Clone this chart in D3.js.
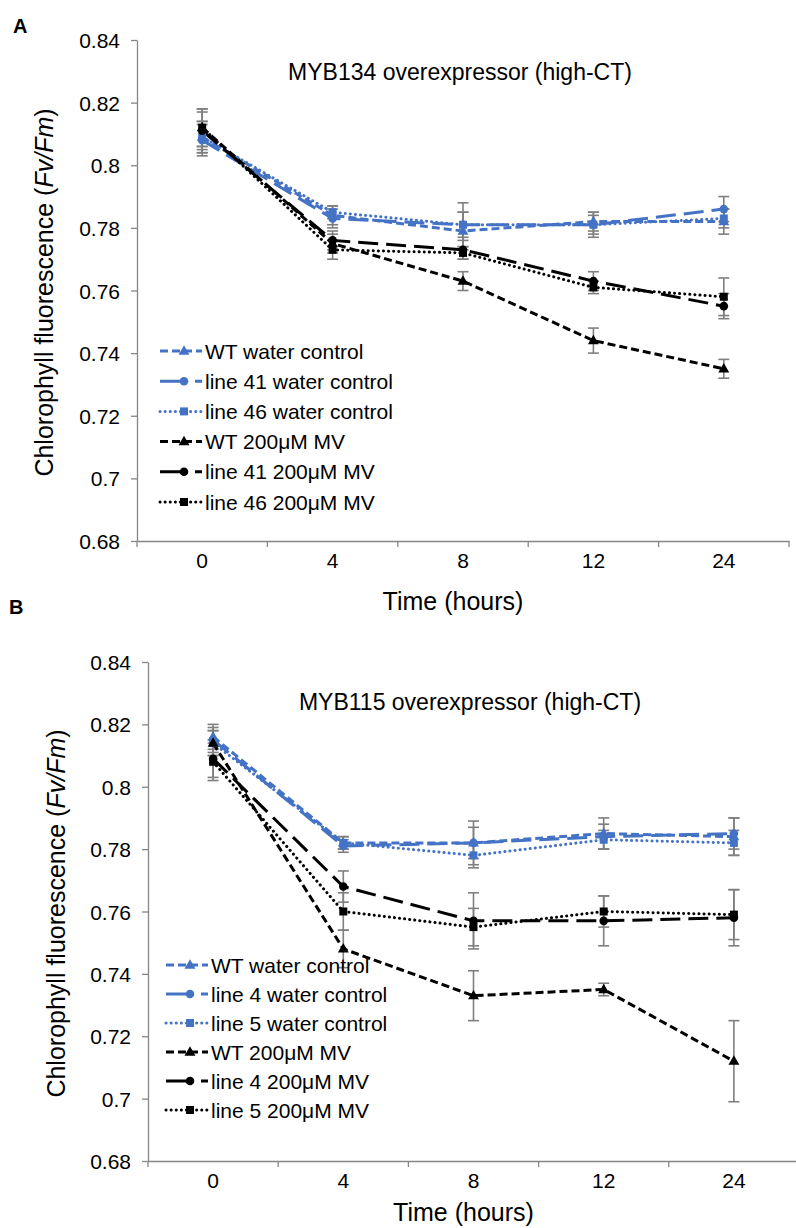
<!DOCTYPE html>
<html><head><meta charset="utf-8">
<script src="https://cdn.jsdelivr.net/npm/d3@7"></script>
<style>body{margin:0;background:#fff}svg{display:block;font-family:"Liberation Sans",Arial,sans-serif}</style>
</head><body><svg id="c" width="796" height="1228"></svg>
<script>
const categories = ["0","4","8","12","24"];
const yTicks = [0.68,0.70,0.72,0.74,0.76,0.78,0.80,0.82,0.84];
const yTickLabels = ["0.68","0.7","0.72","0.74","0.76","0.78","0.8","0.82","0.84"];

// Panel A: MYB134
const A_names = ["WT water control","line 41 water control","line 46 water control","WT 200μM MV","line 41 200μM MV","line 46 200μM MV"];
const A_wtWater   = [0.809,0.784,0.779,0.782,0.782];
const A_l41Water  = [0.808,0.783,0.781,0.781,0.786];
const A_l46Water  = [0.809,0.785,0.781,0.781,0.783];
const A_wtMV      = [0.812,0.775,0.763,0.744,0.735];
const A_l41MV     = [0.811,0.776,0.773,0.763,0.755];
const A_l46MV     = [0.812,0.773,0.772,0.761,0.758];
const A_errWtWater  = [0.005,0.003,0.006,0.003,0.004];
const A_errL41Water = [0.005,0.003,0.007,0.004,0.004];
const A_errL46Water = [0.005,0.002,0.004,0.003,0.003];
const A_errWtMV     = [0.006,0.003,0.003,0.004,0.003];
const A_errL41MV    = [0.006,0.003,0.003,0.003,0.004];
const A_errL46MV    = [0.006,0.003,0.002,0.002,0.006];

// Panel B: MYB115
const B_names = ["WT water control","line 4 water control","line 5 water control","WT 200μM MV","line 4 200μM MV","line 5 200μM MV"];
const B_wtWater   = [0.816,0.782,0.782,0.785,0.784];
const B_l4Water   = [0.815,0.781,0.782,0.784,0.785];
const B_l5Water   = [0.814,0.782,0.778,0.783,0.782];
const B_wtMV      = [0.814,0.748,0.733,0.735,0.712];
const B_l4MV      = [0.809,0.768,0.757,0.757,0.758];
const B_l5MV      = [0.808,0.760,0.755,0.760,0.759];
const B_errWtWater = [0.004,0.002,0.005,0.005,0.006];
const B_errL4Water = [0.004,0.002,0.007,0.004,0.005];
const B_errL5Water = [0.004,0.002,0.004,0.003,0.004];
const B_errWtMV    = [0.004,0.006,0.008,0.002,0.013];
const B_errL4MV    = [0.006,0.005,0.009,0.008,0.009];
const B_errL5MV    = [0.006,0.006,0.006,0.005,0.008];

const BLUE = "#4472C4", BLACK = "#000000";
const styles = [
  {color:BLUE, dash:"8,4", legDash:"8,4", cap:"butt", marker:"triangle"},
  {color:BLUE, dash:"20,8", legDash:"25,10", cap:"butt", marker:"circle"},
  {color:BLUE, dash:"0.1,5", legDash:"0.1,5", cap:"round", marker:"square"},
  {color:BLACK, dash:"8,4", legDash:"8,4", cap:"butt", marker:"triangle"},
  {color:BLACK, dash:"20,8", legDash:"25,10", cap:"butt", marker:"circle"},
  {color:BLACK, dash:"0.1,5", legDash:"0.1,5", cap:"round", marker:"square"}
];

const svg = d3.select("#c");

function drawMarker(g, type, x, y, color){
  if(type==="triangle"){
    g.append("path").attr("d", d3.symbol(d3.symbolTriangle, 52)()).attr("transform",`translate(${x},${y+0.5})`).attr("fill",color);
  } else if(type==="circle"){
    g.append("circle").attr("cx",x).attr("cy",y).attr("r",4.3).attr("fill",color);
  } else {
    g.append("rect").attr("x",x-4).attr("y",y-4).attr("width",8).attr("height",8).attr("fill",color);
  }
}

function panel(cfg){
  const g = svg.append("g");
  const x = d3.scaleBand().domain(categories).range([cfg.x0, cfg.x1]);
  const y = d3.scaleLinear().domain([0.68,0.84]).range([cfg.yb, cfg.yt]);
  const cx = c => x(c) + x.bandwidth()/2;

  // y axis
  const ya = d3.axisLeft(y).tickValues(yTicks).tickFormat((d,i)=>yTickLabels[i]).tickSize(6).tickSizeOuter(0);
  const yg = g.append("g").attr("transform",`translate(${cfg.x0},0)`).call(ya);
  yg.select(".domain").attr("stroke","#868686").attr("stroke-width",1.3);
  yg.selectAll(".tick line").attr("stroke","#868686").attr("stroke-width",1.3);
  yg.selectAll(".tick text").attr("font-size",21).attr("fill","#000").attr("x",-17).attr("dy","0.36em").attr("font-family","Liberation Sans, Arial, sans-serif");

  // x axis
  const xa = d3.axisBottom(x).tickSize(0).tickSizeOuter(0).tickPadding(12);
  const xg = g.append("g").attr("transform",`translate(0,${cfg.yb})`).call(xa);
  xg.select(".domain").attr("stroke","#868686").attr("stroke-width",1.3);
  xg.selectAll(".tick text").attr("font-size",21).attr("fill","#000").attr("font-family","Liberation Sans, Arial, sans-serif");
  const bounds = categories.map(c=>x(c)).concat([cfg.x1]);
  xg.selectAll(".btick").data(bounds).enter().append("line")
    .attr("x1",d=>d).attr("x2",d=>d).attr("y1",0).attr("y2",6).attr("stroke","#868686").attr("stroke-width",1.3);

  // title
  g.append("text").attr("x",cfg.titleX).attr("y",cfg.titleY).attr("text-anchor","middle").attr("font-size",23).text(cfg.title);
  // x label
  g.append("text").attr("x",(cfg.x0+cfg.x1)/2 - 10).attr("y",cfg.xlabY).attr("text-anchor","middle").attr("font-size",25).text("Time (hours)");
  // y label
  const yl = g.append("text").attr("transform",`translate(${cfg.ylabX},${(cfg.yt+cfg.yb)/2 + 2}) rotate(-90)`).attr("text-anchor","middle").attr("font-size",25);
  yl.append("tspan").text("Chlorophyll fluorescence (");
  yl.append("tspan").attr("font-style","italic").text("Fv/Fm");
  yl.append("tspan").text(")");
  // panel letter
  g.append("text").attr("x",cfg.letterX).attr("y",cfg.letterY).attr("font-size",20).attr("font-weight","bold").text(cfg.letter);

  // error bars
  cfg.series.forEach((s,i)=>{
    s.vals.forEach((v,j)=>{
      const e = s.err[j], px = cx(categories[j]);
      g.append("line").attr("x1",px).attr("x2",px).attr("y1",y(v+e)).attr("y2",y(v-e)).attr("stroke","#7f7f7f").attr("stroke-width",1.6);
      [v+e,v-e].forEach(w=>g.append("line").attr("x1",px-5.5).attr("x2",px+5.5).attr("y1",y(w)).attr("y2",y(w)).attr("stroke","#7f7f7f").attr("stroke-width",1.6));
    });
  });
  // lines
  const line = d3.line().x((d,j)=>cx(categories[j])).y(d=>y(d));
  cfg.series.forEach((s,i)=>{
    const st = styles[i];
    g.append("path").attr("d",line(s.vals)).attr("fill","none").attr("stroke",st.color).attr("stroke-width",3)
      .attr("stroke-dasharray",st.dash).attr("stroke-linecap",st.cap);
  });
  cfg.series.forEach((s,i)=>{
    s.vals.forEach((v,j)=>drawMarker(g, styles[i].marker, cx(categories[j]), y(v), styles[i].color));
  });

  // legend
  cfg.series.forEach((s,i)=>{
    const st = styles[i], ly = cfg.legY + i*cfg.legStep, lx = cfg.legX;
    g.append("line").attr("x1",lx).attr("x2",lx+42).attr("y1",ly).attr("y2",ly).attr("stroke",st.color).attr("stroke-width",3)
      .attr("stroke-dasharray",st.legDash).attr("stroke-linecap",st.cap);
    drawMarker(g, st.marker, lx+24, ly, st.color);
    g.append("text").attr("x",lx+45).attr("y",ly+7.5).attr("font-size",21).text(s.name);
  });
}

panel({
  x0:137, x1:789, yt:40, yb:541, title:"MYB134 overexpressor (high-CT)", titleX:460, titleY:80,
  xlabY:610, ylabX:53, letter:"A", letterX:13, letterY:33,
  legX:160, legY:351, legStep:30.2,
  series:[
    {name:A_names[0], vals:A_wtWater, err:A_errWtWater},
    {name:A_names[1], vals:A_l41Water, err:A_errL41Water},
    {name:A_names[2], vals:A_l46Water, err:A_errL46Water},
    {name:A_names[3], vals:A_wtMV, err:A_errWtMV},
    {name:A_names[4], vals:A_l41MV, err:A_errL41MV},
    {name:A_names[5], vals:A_l46MV, err:A_errL46MV}
  ]
});
panel({
  x0:148, x1:799, yt:662, yb:1161, title:"MYB115 overexpressor (high-CT)", titleX:470, titleY:710,
  xlabY:1221, ylabX:65, letter:"B", letterX:9, letterY:614,
  legX:166, legY:965, legStep:29,
  series:[
    {name:B_names[0], vals:B_wtWater, err:B_errWtWater},
    {name:B_names[1], vals:B_l4Water, err:B_errL4Water},
    {name:B_names[2], vals:B_l5Water, err:B_errL5Water},
    {name:B_names[3], vals:B_wtMV, err:B_errWtMV},
    {name:B_names[4], vals:B_l4MV, err:B_errL4MV},
    {name:B_names[5], vals:B_l5MV, err:B_errL5MV}
  ]
});
</script></body></html>
